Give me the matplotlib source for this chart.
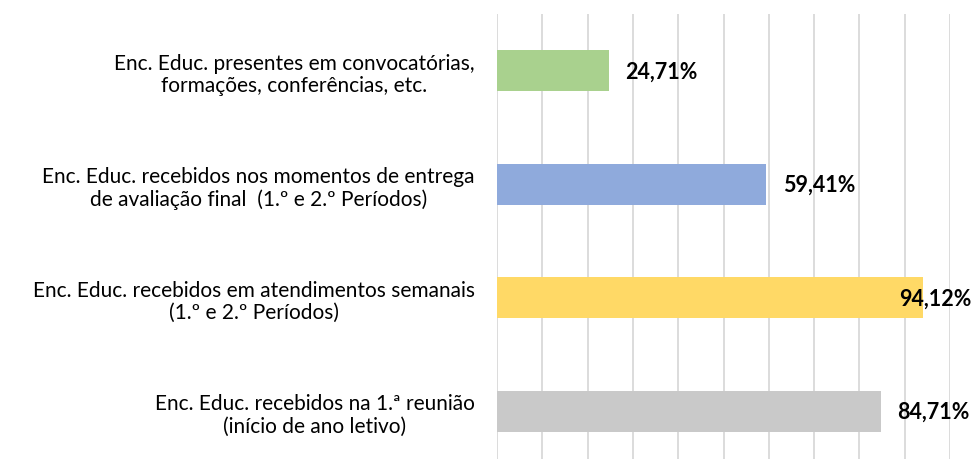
import matplotlib.pyplot as plt
import numpy as np

categorias = [
    'Enc. Educ. recebidos na 1.ª reunião\n(início de ano letivo)',
    'Enc. Educ. recebidos em atendimentos semanais\n(1.º e 2.º Períodos)',
    'Enc. Educ. recebidos nos momentos de entrega\nde avaliação final  (1.º e 2.º Períodos)',
    'Enc. Educ. presentes em convocatórias,\nformações, conferências, etc.',
]
valores = [0.8471, 0.9412, 0.5941, 0.2471]
rotulos = ['84,71%', '94,12%', '59,41%', '24,71%']
cores = ['#c9c9c9', '#ffd966', '#8faadc', '#a9d18e']

plt.rcParams['font.family'] = ['Lato', 'DejaVu Sans']

fig = plt.figure(figsize=(9.73, 4.6), dpi=100)
ax = fig.add_axes([497 / 973, 0, 453 / 973, 445 / 460])

y = np.arange(len(categorias))
ax.barh(y, valores, height=0.36, color=cores, zorder=2)

for yi, v, r in zip(y, valores, rotulos):
    ax.annotate(r, (min(v, 0.85), yi), xytext=(12, 0), textcoords='offset points',
                va='center', ha='left', fontsize=15.5, fontweight='bold', color='black')

ax.set_xlim(0, 1.0)
ax.set_ylim(-0.42, 3.5)
ax.set_xticks(np.arange(0, 1.01, 0.1))
ax.set_xticklabels([])
ax.tick_params(axis='x', length=0)
ax.grid(axis='x', color='#d9d9d9', linewidth=1.3, zorder=0)
for s in ax.spines.values():
    s.set_visible(False)

ax.set_yticks(y)
ax.set_yticklabels(categorias, fontsize=15, multialignment='center', linespacing=1.15)
ax.tick_params(axis='y', length=0, pad=16)

fig.savefig('out.png', dpi=100)
